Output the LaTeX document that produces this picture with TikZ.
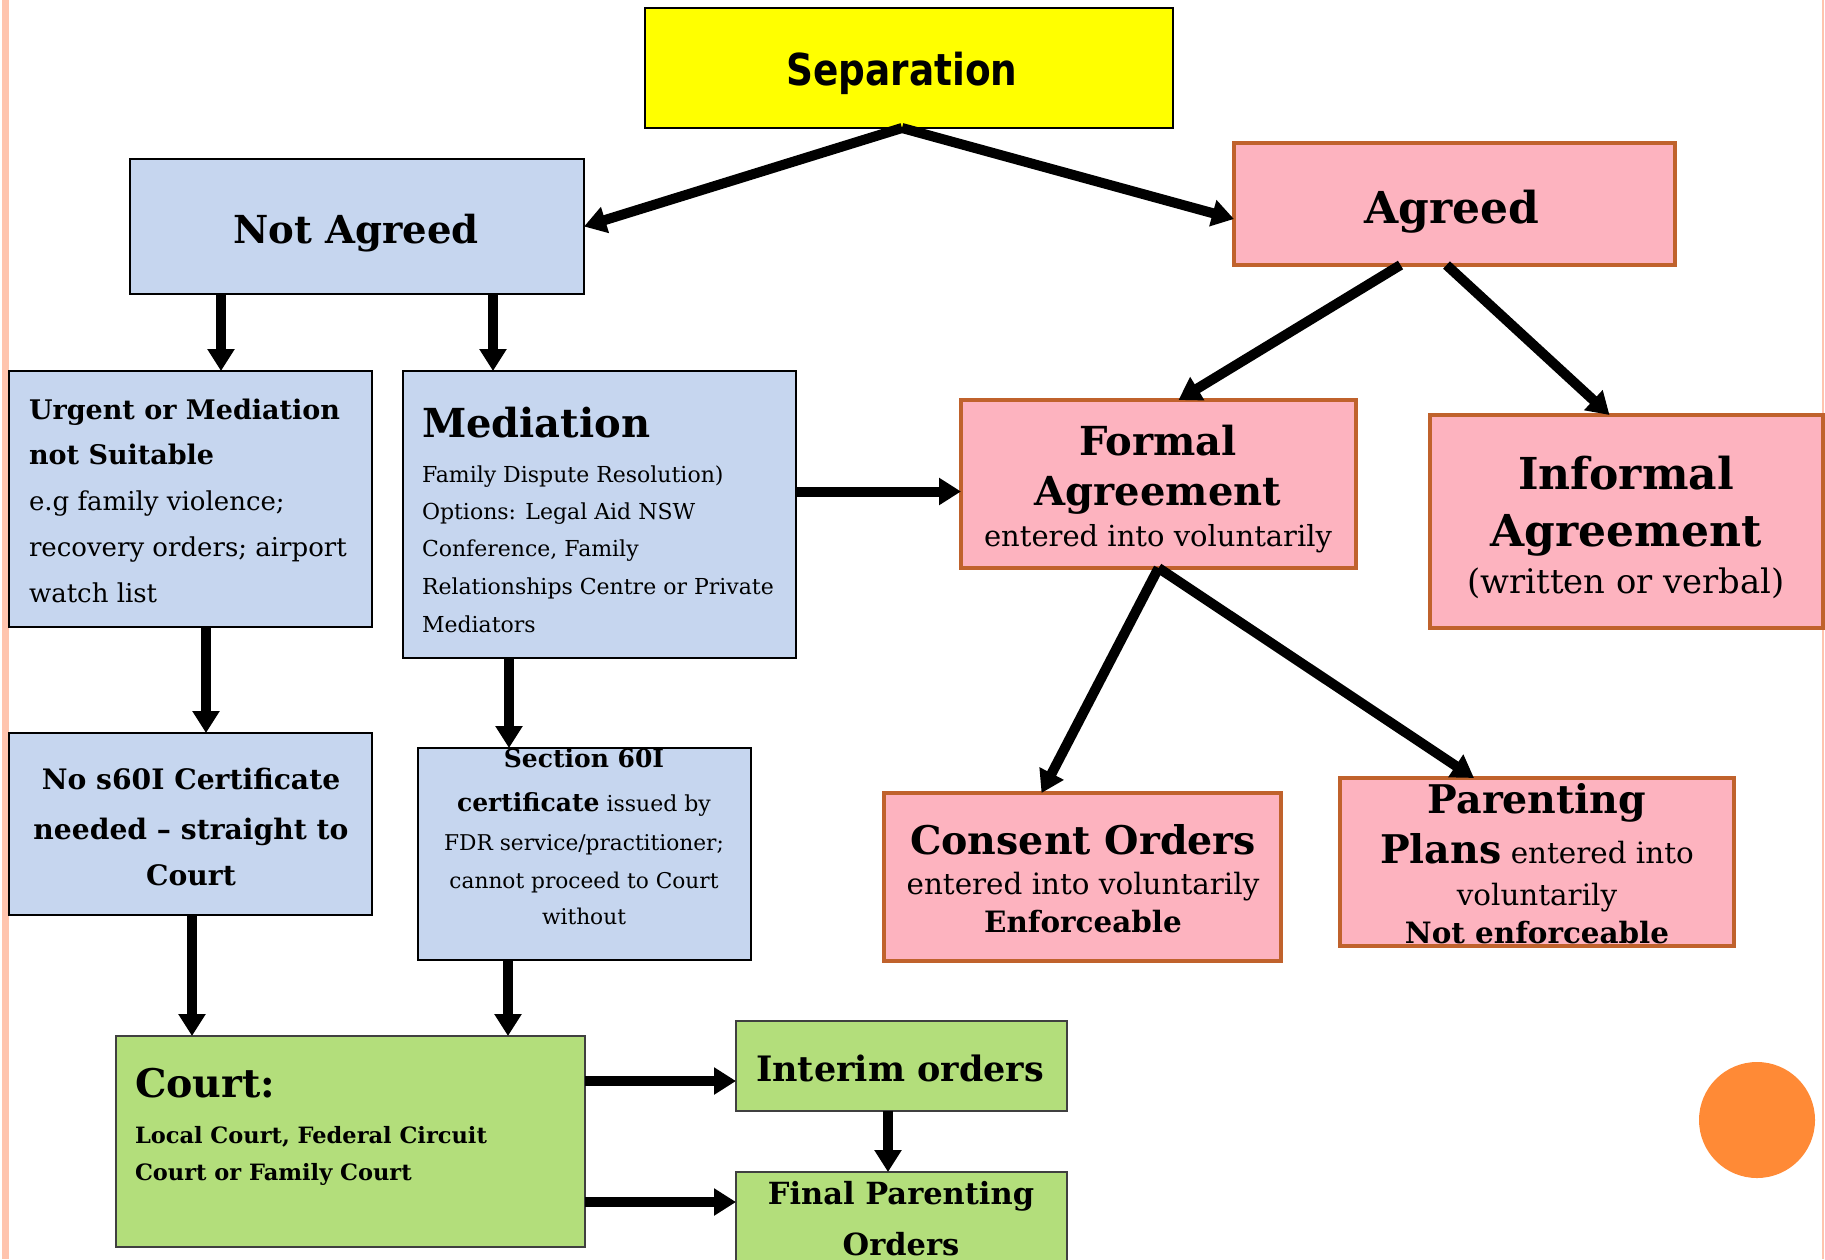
\documentclass[tikz,border=0pt]{standalone}
\usepackage{fontspec}
\setmainfont{DejaVu Serif}
\newfontfamily\sepfont[FakeStretch=0.85]{DejaVu Sans}
\usetikzlibrary{arrows.meta}
\definecolor{bluefill}{HTML}{C6D6EF}
\definecolor{pinkfill}{HTML}{FDB3BF}
\definecolor{pinkline}{HTML}{C0622C}
\definecolor{greenfill}{HTML}{B3DE7B}
\definecolor{greenline}{HTML}{404040}
\definecolor{sepyellow}{HTML}{FFFF00}
\definecolor{dotorange}{HTML}{FF8A36}
\definecolor{stripe}{HTML}{FFC4AE}
\newcommand\myfs[1]{\fontsize{#1}{#1}\selectfont}
\begin{document}
\begin{tikzpicture}[x=1pt,y=-1pt,
  box/.style={rectangle, inner sep=0pt, outer sep=0pt, anchor=north west},
  bluebox/.style={box, fill=bluefill, draw=black, line width=1.6pt},
  pinkbox/.style={box, fill=pinkfill, draw=pinkline, line width=4.5pt},
  greenbox/.style={box, fill=greenfill, draw=greenline, line width=1.6pt},
  yellowbox/.style={box, fill=sepyellow, draw=black, line width=1.6pt},
  txt/.style={inner sep=0pt, outer sep=0pt, anchor=base},
  ltxt/.style={txt, anchor=base west},
  arr/.style={line width=10pt, -{Triangle[length=22pt,width=26pt]}},
]
\useasboundingbox (0,0) rectangle (1825,1259);
\fill[white] (0,0) rectangle (1825,1259);
% slide borders
\fill[stripe] (2,0) rectangle (9,1259);
\draw[stripe, line width=1.5pt] (1823,0) -- (1823,1259);
% orange dot
\node[circle, fill=dotorange, minimum size=116pt, inner sep=0pt] (dot) at (1757,1120) {};

% boxes
\node[yellowbox, minimum width=528pt, minimum height=120pt] (sep) at (645,8) {};
\node[bluebox, minimum width=454pt, minimum height=135pt] (na) at (130,159) {};
\node[pinkbox, minimum width=441pt, minimum height=122pt] (agr) at (1234,143) {};
\node[bluebox, minimum width=363pt, minimum height=256pt] (urg) at (9,371) {};
\node[bluebox, minimum width=393pt, minimum height=287pt] (med) at (403,371) {};
\node[pinkbox, minimum width=395pt, minimum height=168pt] (fa) at (961,400) {};
\node[pinkbox, minimum width=393pt, minimum height=213pt] (inf) at (1430,415) {};
\node[bluebox, minimum width=363pt, minimum height=182pt] (ns) at (9,733) {};
\node[bluebox, minimum width=333pt, minimum height=212pt] (sec) at (418,748) {};
\node[pinkbox, minimum width=397pt, minimum height=168pt] (co) at (884,793) {};
\node[pinkbox, minimum width=394pt, minimum height=168pt] (pp) at (1340,778) {};
\node[greenbox, minimum width=469pt, minimum height=211pt] (court) at (116,1036) {};
\node[greenbox, minimum width=331pt, minimum height=90pt] (int) at (736,1021) {};
\node[greenbox, minimum width=331pt, minimum height=110pt] (fin) at (736,1172) {};

% texts
\node[txt] (sepT) at (902,85) {\sepfont\bfseries\myfs{44}Separation};
\node[txt] (naT) at (356,243) {\bfseries\myfs{38.6}Not Agreed};
\node[txt] (agrT) at (1452,223) {\bfseries\myfs{44}Agreed};

\node[ltxt] (urg1) at (29,419) {\bfseries\myfs{27}Urgent or Mediation};
\node[ltxt] (urg2) at (29,464) {\bfseries\myfs{27}not Suitable};
\node[ltxt] (urg3) at (29,510) {\myfs{26}e.g family violence;};
\node[ltxt] (urg4) at (29,556) {\myfs{26}recovery orders; airport};
\node[ltxt] (urg5) at (29,602) {\myfs{26}watch list};

\node[ltxt] (med0) at (422,437) {\bfseries\myfs{40}Mediation};
\node[ltxt] (med1) at (422,482) {\myfs{22}Family Dispute Resolution)};
\node[ltxt] (med2) at (422,519) {\myfs{22}Options: Legal Aid NSW};
\node[ltxt] (med3) at (422,556) {\myfs{22}Conference, Family};
\node[ltxt] (med4) at (422,594) {\myfs{22}Relationships Centre or Private};
\node[ltxt] (med5) at (422,632) {\myfs{22}Mediators};

\node[txt] (fa1) at (1158,455) {\bfseries\myfs{40}Formal};
\node[txt] (fa2) at (1158,505) {\bfseries\myfs{40}Agreement};
\node[txt] (fa3) at (1158,546) {\myfs{29}entered into voluntarily};

\node[txt] (inf1) at (1626,489) {\bfseries\myfs{44}Informal};
\node[txt] (inf2) at (1626,546) {\bfseries\myfs{44}Agreement};
\node[txt] (inf3) at (1626,593) {\myfs{33.8}(written or verbal)};

\node[txt] (ns1) at (191,789) {\bfseries\myfs{28.2}No s60I Certificate};
\node[txt] (ns2) at (191,839) {\bfseries\myfs{28.2}needed -- straight to};
\node[txt] (ns3) at (191,885) {\bfseries\myfs{28.2}Court};

\node[txt] (sec1) at (584,767) {\bfseries\myfs{25}Section 60I};
\node[txt] (sec2) at (584,811) {\myfs{22}{\bfseries\myfs{25}certificate} issued by};
\node[txt] (sec3) at (584,850) {\myfs{21.7}FDR service/practitioner;};
\node[txt] (sec4) at (584,888) {\myfs{21.7}cannot proceed to Court};
\node[txt] (sec5) at (584,924) {\myfs{21.7}without};

\node[txt] (co1) at (1083,854) {\bfseries\myfs{39.5}Consent Orders};
\node[txt] (co2) at (1083,894) {\myfs{29.4}entered into voluntarily};
\node[txt] (co3) at (1083,932) {\bfseries\myfs{29.4}Enforceable};

\node[txt] (pp1) at (1537,813) {\bfseries\myfs{39.5}Parenting};
\node[txt] (pp2) at (1537,863) {\myfs{29.4}{\bfseries\myfs{39.5}Plans} entered into};
\node[txt] (pp3) at (1537,905) {\myfs{29.4}voluntarily};
\node[txt] (pp4) at (1537,943) {\bfseries\myfs{29.4}Not enforceable};

\node[ltxt] (ct1) at (135,1097) {\bfseries\myfs{39.5}Court:};
\node[ltxt] (ct2) at (135,1143) {\bfseries\myfs{22.5}Local Court, Federal Circuit};
\node[ltxt] (ct3) at (135,1180) {\bfseries\myfs{22.5}Court or Family Court};

\node[txt] (int1) at (900,1081) {\bfseries\myfs{35}Interim orders};
\node[txt] (fin1) at (901,1204) {\bfseries\myfs{30.5}Final Parenting};
\node[txt] (fin2) at (901,1255) {\bfseries\myfs{30.5}Orders};

% connectors
\coordinate (c0) at ([xshift=-7pt]sep.south);
\draw[arr] (c0) -- (na.east);
\draw[arr] (c0) -- ([yshift=-15pt]agr.west);
\coordinate (c1) at ([xshift=-136pt]na.south);
\draw[arr] (c1) -- (c1 |- urg.north);
\coordinate (c2) at ([xshift=136pt]na.south);
\draw[arr] (c2) -- (c2 |- med.north);
\coordinate (c3) at ([xshift=15.5pt]urg.south);
\draw[arr] (c3) -- (c3 |- ns.north);
\coordinate (c4) at ([xshift=-90.5pt]med.south);
\draw[arr] (c4) -- (c4 |- sec.north);
\coordinate (c5) at ([yshift=23pt]med.east);
\draw[arr] (c5) -- (c5 -| fa.west);
\draw[arr] ([xshift=-54pt]agr.south) -- ([xshift=20pt]fa.north);
\draw[arr] ([xshift=-8pt]agr.south) -- ([xshift=-17pt]inf.north);
\draw[arr] (fa.south) -- ([xshift=-41pt]co.north);
\draw[arr] (fa.south) -- ([xshift=-63pt]pp.north);
\coordinate (c6) at ([xshift=1.5pt]ns.south);
\draw[arr] (c6) -- (c6 |- court.north);
\coordinate (c7) at ([xshift=-76.5pt]sec.south);
\draw[arr] (c7) -- (c7 |- court.north);
\coordinate (c8) at (court.east |- 0,1081);
\draw[arr] (c8) -- (c8 -| int.west);
\coordinate (c9) at (court.east |- 0,1202);
\draw[arr] (c9) -- (c9 -| fin.west);
\coordinate (c10) at ([xshift=-13.5pt]int.south);
\draw[arr] (c10) -- (c10 |- fin.north);
\end{tikzpicture}
\end{document}
